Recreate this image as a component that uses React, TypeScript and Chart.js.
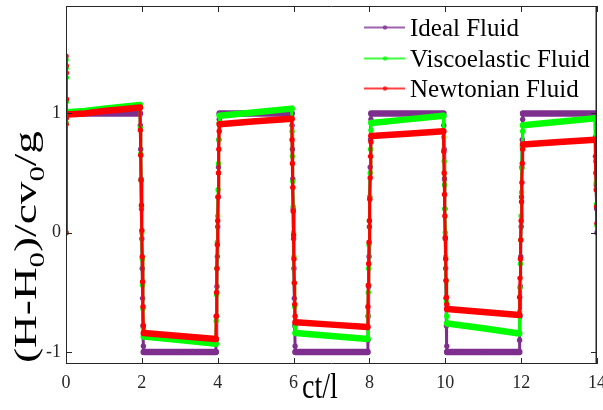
import { useEffect, useRef } from "react";
import { Chart, registerables } from "chart.js";

Chart.register(...registerables);

// ---------------- data ----------------
const times = [
  0, 0.002, 0.004, 0.006, 0.008, 0.01, 0.012, 0.014, 0.02,
  0.5, 1.0, 1.5, 1.95,
  1.96, 1.97, 1.98, 1.99, 2.0, 2.01, 2.02, 2.03, 2.04,
  2.05, 3.0, 3.95,
  3.96, 3.97, 3.98, 3.99, 4.0, 4.01, 4.02, 4.03, 4.04,
  4.05, 5.0, 5.95,
  5.96, 5.97, 5.98, 5.99, 6.0, 6.01, 6.02, 6.03, 6.04,
  6.05, 7.0, 7.95,
  7.96, 7.97, 7.98, 7.99, 8.0, 8.01, 8.02, 8.03, 8.04,
  8.05, 9.0, 9.95,
  9.96, 9.97, 9.98, 9.99, 10.0, 10.01, 10.02, 10.03, 10.04,
  10.05, 11.0, 11.95,
  11.96, 11.97, 11.98, 11.99, 12.0, 12.01, 12.02, 12.03, 12.04,
  12.05, 13.0, 13.95,
  13.96, 13.97, 13.98, 13.99, 14.0,
];

const idealFluid = [
  0, 1, 1, 1, 1, 1, 1, 1, 1,
  1, 1, 1, 1,
  0.9, 0.7, 0.45, 0.2, -0.05, -0.3, -0.55, -0.78, -0.95,
  -1, -1, -1,
  -0.9, -0.7, -0.45, -0.2, 0.05, 0.3, 0.55, 0.78, 0.95,
  1, 1, 1,
  0.9, 0.7, 0.45, 0.2, -0.05, -0.3, -0.55, -0.78, -0.95,
  -1, -1, -1,
  -0.9, -0.7, -0.45, -0.2, 0.05, 0.3, 0.55, 0.78, 0.95,
  1, 1, 1,
  0.9, 0.7, 0.45, 0.2, -0.05, -0.3, -0.55, -0.78, -0.95,
  -1, -1, -1,
  -0.9, -0.7, -0.45, -0.2, 0.05, 0.3, 0.55, 0.78, 0.95,
  1, 1, 1,
  0.8, 0.6, 0.4, 0.2, 0.0,
];

const viscoelasticFluid = [
  0, 1.45, 0.92, 1.38, 0.97, 1.3, 1.0, 1.1, 1.01,
  1.02, 1.04, 1.055, 1.07,
  0.88, 0.66, 0.44, 0.22, 0.0, -0.22, -0.44, -0.64, -0.8,
  -0.87, -0.9, -0.93,
  -0.74, -0.52, -0.3, -0.08, 0.14, 0.36, 0.58, 0.78, 0.92,
  0.98, 1.01, 1.04,
  0.85, 0.64, 0.43, 0.22, 0.0, -0.2, -0.42, -0.62, -0.78,
  -0.84, -0.865, -0.89,
  -0.7, -0.5, -0.3, -0.1, 0.1, 0.3, 0.5, 0.7, 0.86,
  0.92, 0.95, 0.98,
  0.8, 0.6, 0.4, 0.2, 0.0, -0.2, -0.4, -0.58, -0.7,
  -0.76, -0.8, -0.845,
  -0.66, -0.46, -0.26, -0.06, 0.14, 0.34, 0.54, 0.72, 0.85,
  0.9, 0.93, 0.96,
  0.78, 0.6, 0.42, 0.24, 0.06,
];

const newtonianFluid = [
  0, 1.48, 0.91, 1.4, 0.96, 1.34, 1.0, 1.12, 0.99,
  1.0, 1.02, 1.035, 1.05,
  0.86, 0.65, 0.44, 0.23, 0.02, -0.2, -0.41, -0.62, -0.78,
  -0.84, -0.865, -0.89,
  -0.7, -0.5, -0.3, -0.1, 0.1, 0.3, 0.5, 0.7, 0.85,
  0.91, 0.935, 0.955,
  0.78, 0.58, 0.38, 0.18, -0.02, -0.22, -0.42, -0.6, -0.7,
  -0.75, -0.77, -0.79,
  -0.62, -0.44, -0.26, -0.08, 0.1, 0.28, 0.46, 0.64, 0.76,
  0.81, 0.83, 0.85,
  0.68, 0.5, 0.32, 0.14, -0.04, -0.22, -0.4, -0.54, -0.6,
  -0.64, -0.665, -0.69,
  -0.54, -0.38, -0.22, -0.06, 0.1, 0.26, 0.42, 0.58, 0.7,
  0.74, 0.76, 0.78,
  0.64, 0.5, 0.36, 0.22, 0.08,
];

const seriesNames = ["Ideal Fluid", "Viscoelastic Fluid", "Newtonian Fluid"];
const seriesColors = ["#7E2F8E", "#00FF00", "#FF0000"];
const xTicks = [0, 2, 4, 6, 8, 10, 12, 14];
const yTicks = [-1, 0, 1];
const xMin = 0;
const xMax = 14;
const yMin = -1.1;
const yMax = 1.9;
const xTitle = "ct/l";
// y title pieces: [text, isSubscript]
const yTitleParts: [string, boolean][] = [
  ["(H-H", false],
  ["0", true],
  [")/cv", false],
  ["0", true],
  ["/g", false],
];

const SERIF = '"Liberation Serif", "Times New Roman", serif';
const INK = "#262626";

const decorPlugin = {
  id: "decor",
  afterDraw(chart: any) {
    const { ctx, scales } = chart;
    const L = Math.round(scales.x.getPixelForValue(xMin));
    const R = Math.min(Math.round(scales.x.getPixelForValue(xMax)), chart.width - 6);
    const T = Math.round(scales.y.getPixelForValue(yMax));
    const B = Math.round(scales.y.getPixelForValue(yMin));
    ctx.save();
    // frame
    ctx.strokeStyle = INK;
    ctx.lineWidth = 1;
    ctx.beginPath();
    ctx.moveTo(L + 0.5, T + 0.5);
    ctx.lineTo(R - 0.5, T + 0.5);
    ctx.moveTo(L + 0.5, T + 0.5);
    ctx.lineTo(L + 0.5, B - 0.5);
    ctx.lineTo(R - 0.5, B - 0.5);
    ctx.stroke();
    ctx.lineWidth = 1.5;
    ctx.beginPath();
    ctx.moveTo(R - 0.75, T);
    ctx.lineTo(R - 0.75, B);
    ctx.stroke();
    ctx.lineWidth = 1;
    // inward tick marks
    const tl = 6;
    ctx.beginPath();
    for (const v of xTicks) {
      const px = Math.round(scales.x.getPixelForValue(v)) + 0.5;
      ctx.moveTo(px, B);
      ctx.lineTo(px, B - tl);
      ctx.moveTo(px, T);
      ctx.lineTo(px, T + tl);
    }
    for (const v of yTicks) {
      const py = Math.round(scales.y.getPixelForValue(v)) + 0.5;
      ctx.moveTo(L, py);
      ctx.lineTo(L + tl, py);
      ctx.moveTo(R, py);
      ctx.lineTo(R - tl, py);
    }
    ctx.stroke();

    // x title
    ctx.fillStyle = "#000";
    ctx.save();
    ctx.translate(320, 398);
    ctx.scale(1, 1.3);
    ctx.font = `28px ${SERIF}`;
    ctx.textAlign = "center";
    ctx.textBaseline = "alphabetic";
    ctx.fillText(xTitle, 0, 0);
    ctx.restore();

    // y title (rotated, with subscripts)
    const mainFont = `31px ${SERIF}`;
    const subFont = `21px ${SERIF}`;
    let total = 0;
    const widths: number[] = [];
    for (const [t, sub] of yTitleParts) {
      ctx.font = sub ? subFont : mainFont;
      const w = ctx.measureText(t).width;
      widths.push(w);
      total += w;
    }
    const targetLen = 232;
    ctx.save();
    ctx.translate(36, 247);
    ctx.rotate(-Math.PI / 2);
    ctx.scale(targetLen / total, 1);
    ctx.textBaseline = "alphabetic";
    ctx.textAlign = "left";
    let x = -total / 2;
    yTitleParts.forEach(([t, sub], i) => {
      ctx.font = sub ? subFont : mainFont;
      ctx.fillText(t, x, sub ? 8 : 0);
      x += widths[i];
    });
    ctx.restore();

    // legend
    const rows = [27, 58, 88];
    seriesNames.forEach((name, i) => {
      const y = rows[i];
      ctx.strokeStyle = seriesColors[i];
      ctx.globalAlpha = 0.75;
      ctx.lineWidth = 2;
      ctx.beginPath();
      ctx.moveTo(364, y + 0.5);
      ctx.lineTo(405, y + 0.5);
      ctx.stroke();
      ctx.fillStyle = seriesColors[i];
      ctx.beginPath();
      ctx.arc(385, y + 0.5, 2.2, 0, Math.PI * 2);
      ctx.fill();
      ctx.globalAlpha = 1;
      ctx.fillStyle = "#000";
      ctx.font = `25px ${SERIF}`;
      ctx.textAlign = "left";
      ctx.textBaseline = "alphabetic";
      ctx.fillText(name, 410, y + 9);
    });
    ctx.restore();
  },
};

export default function App() {
  const ref = useRef<HTMLCanvasElement | null>(null);
  useEffect(() => {
    document.body.style.margin = "0";
    const canvas = ref.current;
    if (!canvas) return;
    const seriesData = [idealFluid, viscoelasticFluid, newtonianFluid];
    // draw order: Newtonian on top, Ideal at the bottom
    const drawOrder = [2, 1, 0];
    const datasets = drawOrder.map((k) => ({
      label: seriesNames[k],
      data: times.map((t, i) => ({ x: t, y: seriesData[k][i] })),
      yAxisID: "y",
      borderColor: seriesColors[k],
      backgroundColor: seriesColors[k],
      pointBackgroundColor: seriesColors[k],
      pointBorderWidth: 0,
      pointRadius: 2.7,
      borderWidth: 6,
      borderCapStyle: "round" as const,
      borderJoinStyle: "round" as const,
      tension: 0,
      segment: {
        borderWidth: (c: any) => (Math.abs(c.p1.x - c.p0.x) < 4 ? 3 : 6.5),
      },
    }));
    const chart = new Chart(canvas, {
      type: "line",
      data: { datasets },
      options: {
        animation: false,
        responsive: false,
        devicePixelRatio: 1,
        layout: { padding: { top: 6, right: 0, left: 0, bottom: 0 } },
        plugins: { legend: { display: false }, tooltip: { enabled: false } },
        elements: { line: { fill: false } },
        scales: {
          x: {
            type: "linear",
            min: xMin,
            max: xMax,
            grid: { display: false, drawTicks: false },
            border: { display: false },
            afterBuildTicks: (s: any) => {
              s.ticks = xTicks.map((v) => ({ value: v }));
            },
            afterFit: (s: any) => {
              s.height = 46;
              s.paddingLeft = 0;
              s.paddingRight = 0;
            },
            ticks: {
              padding: 8,
              maxRotation: 0,
              autoSkip: false,
              color: INK,
              font: { family: SERIF, size: 18 },
              callback: (v: any) => String(v),
            },
          },
          y: {
            type: "linear",
            position: "left",
            min: yMin,
            max: yMax,
            grid: { display: false, drawTicks: false },
            border: { display: false },
            afterBuildTicks: (s: any) => {
              s.ticks = yTicks.map((v) => ({ value: v }));
            },
            afterFit: (s: any) => {
              s.width = 66;
              s.paddingTop = 0;
              s.paddingBottom = 0;
            },
            ticks: {
              padding: 5,
              autoSkip: false,
              color: INK,
              font: { family: SERIF, size: 18 },
              callback: (v: any) => String(v),
            },
          },
          // empty right-hand box that reserves the small margin right of the frame
          yRight: {
            type: "linear",
            position: "right",
            min: yMin,
            max: yMax,
            grid: { display: false, drawTicks: false },
            border: { display: false },
            ticks: { display: false },
            afterFit: (s: any) => {
              s.width = 6;
              s.paddingTop = 0;
              s.paddingBottom = 0;
            },
          },
        },
      },
      plugins: [decorPlugin],
    });
    return () => chart.destroy();
  }, []);
  return (
    <canvas
      ref={ref}
      width={603}
      height={410}
      style={{ display: "block", width: 603, height: 410 }}
    />
  );
}
